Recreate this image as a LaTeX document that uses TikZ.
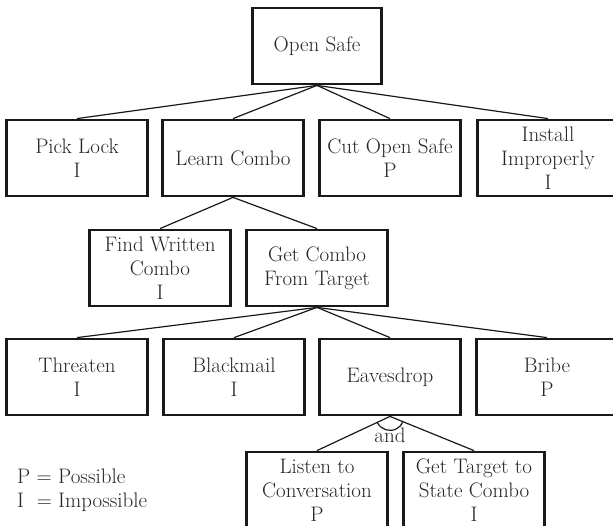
\documentclass[tikz,border=0pt]{standalone}
\usepackage{tikz}

\begin{document}
\begin{tikzpicture}[x=1pt,y=1pt,
  goalbox/.style={draw=black!90,line width=2.8pt,align=center,inner sep=0pt,text=black!85,
    minimum width=141pt,minimum height=76pt,font=\fontsize{21}{24}\selectfont},
  branch/.style={draw=black!90,line width=1.2pt},
  legendtext/.style={anchor=base west,inner sep=0pt,text=black!85,font=\fontsize{21}{24}\selectfont}]
\path[use as bounding box] (0,0) rectangle (613,525);
\clip (0,0) rectangle (613,525);

\node[goalbox,minimum width=129pt] (open) at (317,479) {Open Safe};

\node[goalbox] (pick) at ( 77,367) {Pick Lock\\I};
\node[goalbox] (learn) at (233,367) {Learn Combo};
\node[goalbox] (cut) at (390,367) {Cut Open Safe\\P};
\node[goalbox] (install) at (548,367) {Install\\Improperly\\I};

\node[goalbox] (find) at (160,257) {Find Written\\Combo\\I};
\node[goalbox] (getcombo) at (317,257) {Get Combo\\From Target};

\node[goalbox] (threaten) at ( 77,148) {Threaten\\I};
\node[goalbox] (blackmail) at (234,148) {Blackmail\\I};
\node[goalbox] (eaves) at (390,148) {Eavesdrop};
\node[goalbox] (bribe) at (547,148) {Bribe\\P};

\node[goalbox] (listen) at (317,35) {Listen to\\Conversation\\P};
\node[goalbox] (gettarget) at (474,35) {Get Target to\\State Combo\\I};

\path[branch] (open.south) -- (pick.north);
\path[branch] (open.south) -- (learn.north);
\path[branch] (open.south) -- (cut.north);
\path[branch] (open.south) -- (install.north);

\path[branch] (learn.south) -- (find.north);
\path[branch] (learn.south) -- (getcombo.north);

\path[branch] (getcombo.south) -- (threaten.north);
\path[branch] (getcombo.south) -- (blackmail.north);
\path[branch] (getcombo.south) -- (eaves.north);
\path[branch] (getcombo.south) -- (bribe.north);

\path[branch] (eaves.south) -- (listen.north);
\path[branch] (eaves.south) -- (gettarget.north);
\path[branch] (eaves.south) ++(208:14) arc[start angle=208,end angle=336,radius=14];

\node[anchor=base,inner sep=0pt,text=black!85,font=\fontsize{21}{24}\selectfont] (andlabel) at ([yshift=-26pt]eaves.south) {and};

\node[legendtext] (legendp) at (17,42) {P = Possible};
\node[legendtext] (legendi) at (17,18) {I\ \ = Impossible};
\end{tikzpicture}
\end{document}
